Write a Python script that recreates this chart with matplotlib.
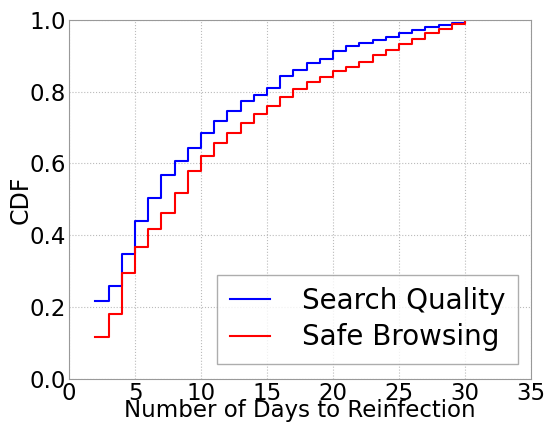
import matplotlib
matplotlib.use('Agg')
import matplotlib.pyplot as plt

# giorni e CDF
days = list(range(2, 31))
search_quality = [0.218, 0.259, 0.348, 0.440, 0.505, 0.569, 0.606, 0.643, 0.684, 0.718,
                  0.746, 0.773, 0.792, 0.811, 0.844, 0.861, 0.881, 0.892, 0.914, 0.926,
                  0.935, 0.944, 0.953, 0.963, 0.972, 0.981, 0.987, 0.992, 1.0]
safe_browsing = [0.116, 0.181, 0.296, 0.367, 0.417, 0.463, 0.519, 0.578, 0.621, 0.658,
                 0.686, 0.714, 0.737, 0.759, 0.785, 0.807, 0.826, 0.841, 0.857, 0.870,
                 0.883, 0.901, 0.917, 0.932, 0.948, 0.962, 0.975, 0.989, 1.0]

fig = plt.figure(figsize=(5.48, 4.22), dpi=100)
ax = fig.add_axes([0.126, 0.102, 0.843, 0.851])

ax.plot(days, search_quality, drawstyle='steps-post', color='blue', lw=1.5, label='Search Quality')
ax.plot(days, safe_browsing, drawstyle='steps-post', color='red', lw=1.5, label='Safe Browsing')

ax.set_xlim(0, 35)
ax.set_ylim(0, 1.0)
ax.set_xticks(range(0, 36, 5))
ax.set_yticks([0, 0.2, 0.4, 0.6, 0.8, 1.0])
ax.set_yticklabels(['0.0', '0.2', '0.4', '0.6', '0.8', '1.0'])
ax.tick_params(labelsize=16.5, length=0, pad=2)
ax.grid(True, color='#bbbbbb', linestyle=':', lw=0.8)
for s in ax.spines.values():
    s.set_color('#999999')

ax.set_xlabel('Number of Days to Reinfection', fontsize=16.5, labelpad=-4)
ax.set_ylabel('CDF', fontsize=17, labelpad=-2)

leg = ax.legend(loc='lower right', fontsize=20, fancybox=False, handlelength=1.45,
                borderpad=0.45, labelspacing=0.3, handletextpad=1.15,
                borderaxespad=0, bbox_to_anchor=(0.972, 0.042))
leg.get_frame().set_edgecolor('#999999')

plt.savefig('out.png', dpi=100)
